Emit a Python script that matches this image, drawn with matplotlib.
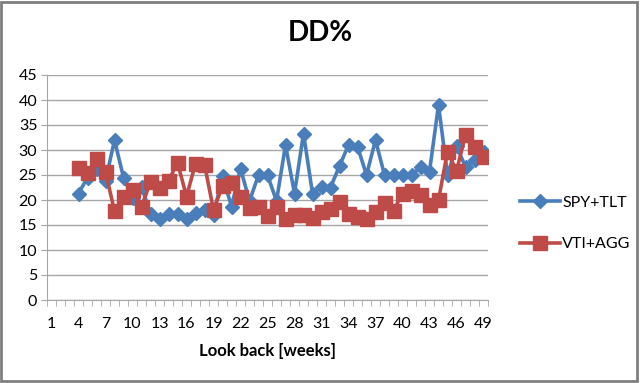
import numpy as np
import matplotlib
matplotlib.use("agg")
import matplotlib.pyplot as plt
from matplotlib.patches import Rectangle

matplotlib.rcParams.update({"font.family": ["Lato", "DejaVu Sans"]})

# Look back weeks (categories 1..49, data starts at 4)
weeks = list(range(4, 50))
spy_tlt = [21.3, 24.5, 26.3, 23.8, 32.0, 24.5, 20.5, 22.7, 17.3, 16.2,
           17.3, 17.3, 16.2, 17.5, 18.0, 17.0, 24.8, 18.7, 26.3, 19.8,
           25.0, 25.0, 19.8, 31.0, 21.3, 33.3, 21.3, 22.7, 22.5, 26.8,
           31.0, 30.7, 25.0, 32.0, 25.0, 25.0, 25.0, 25.0, 26.6, 25.7,
           39.0, 25.0, 30.8, 26.6, 28.0, 29.6]
vti_agg = [26.4, 25.4, 28.3, 25.6, 17.8, 20.6, 22.0, 18.7, 23.6, 22.4,
           23.8, 27.5, 20.7, 27.3, 27.1, 18.0, 22.8, 23.5, 20.6, 18.4,
           18.6, 16.8, 18.6, 16.2, 17.0, 17.0, 16.5, 17.7, 18.2, 19.7,
           17.2, 16.7, 16.2, 17.7, 19.5, 17.9, 21.3, 21.9, 21.0, 19.0,
           20.0, 29.7, 25.8, 33.0, 30.6, 28.6]
xlabels = list(range(1, 50, 3))
ylabels = list(range(0, 50, 5))

blue = '#4A7EBB'
red = '#BE4B48'
grid_col = '#A6A6A6'

fig = plt.figure(figsize=(6.4, 3.83), dpi=100)
ax = fig.add_axes([47/640, 1-300/383, (488-47)/640, 225/383])

ax.plot(weeks, spy_tlt, color=blue, lw=2.6, marker='D', ms=7.5, label='SPY+TLT', zorder=3)
ax.plot(weeks, vti_agg, color=red, lw=2.6, marker='s', ms=9.5, label='VTI+AGG', zorder=3)

ax.set_xlim(0.5, 49.5)
ax.set_ylim(0, 45)
ax.set_yticks(ylabels)
ax.set_xticks(xlabels)
ax.set_xticks(np.arange(0.5, 50, 1), minor=True)
ax.tick_params(axis='x', which='major', length=0, pad=12, labelsize=11.5)
ax.tick_params(axis='x', which='minor', length=4, color=grid_col, direction='out')
ax.tick_params(axis='y', length=4, color=grid_col, labelsize=11.5, pad=3)
ax.grid(axis='y', color=grid_col, lw=1)
ax.set_axisbelow(True)
for s in ['top', 'right']:
    ax.spines[s].set_visible(False)
for s in ['left', 'bottom']:
    ax.spines[s].set_color(grid_col)

ax.set_xlabel('Look back [weeks]', fontsize=12, fontweight='bold', labelpad=9)
fig.text(0.5, 1-33/383, 'DD%', ha='center', va='center', fontsize=20, fontweight='bold')

ax.legend(loc='center left', bbox_to_anchor=(1.04, 0.34), frameon=False, fontsize=11.5,
          handlelength=2.5, labelspacing=1.7, handletextpad=0.15)

fig.add_artist(Rectangle((0.002, 0.005), 0.993, 0.99, transform=fig.transFigure,
                         fill=False, edgecolor='#7F7F7F', lw=2))

plt.savefig('out.png', dpi=100)
